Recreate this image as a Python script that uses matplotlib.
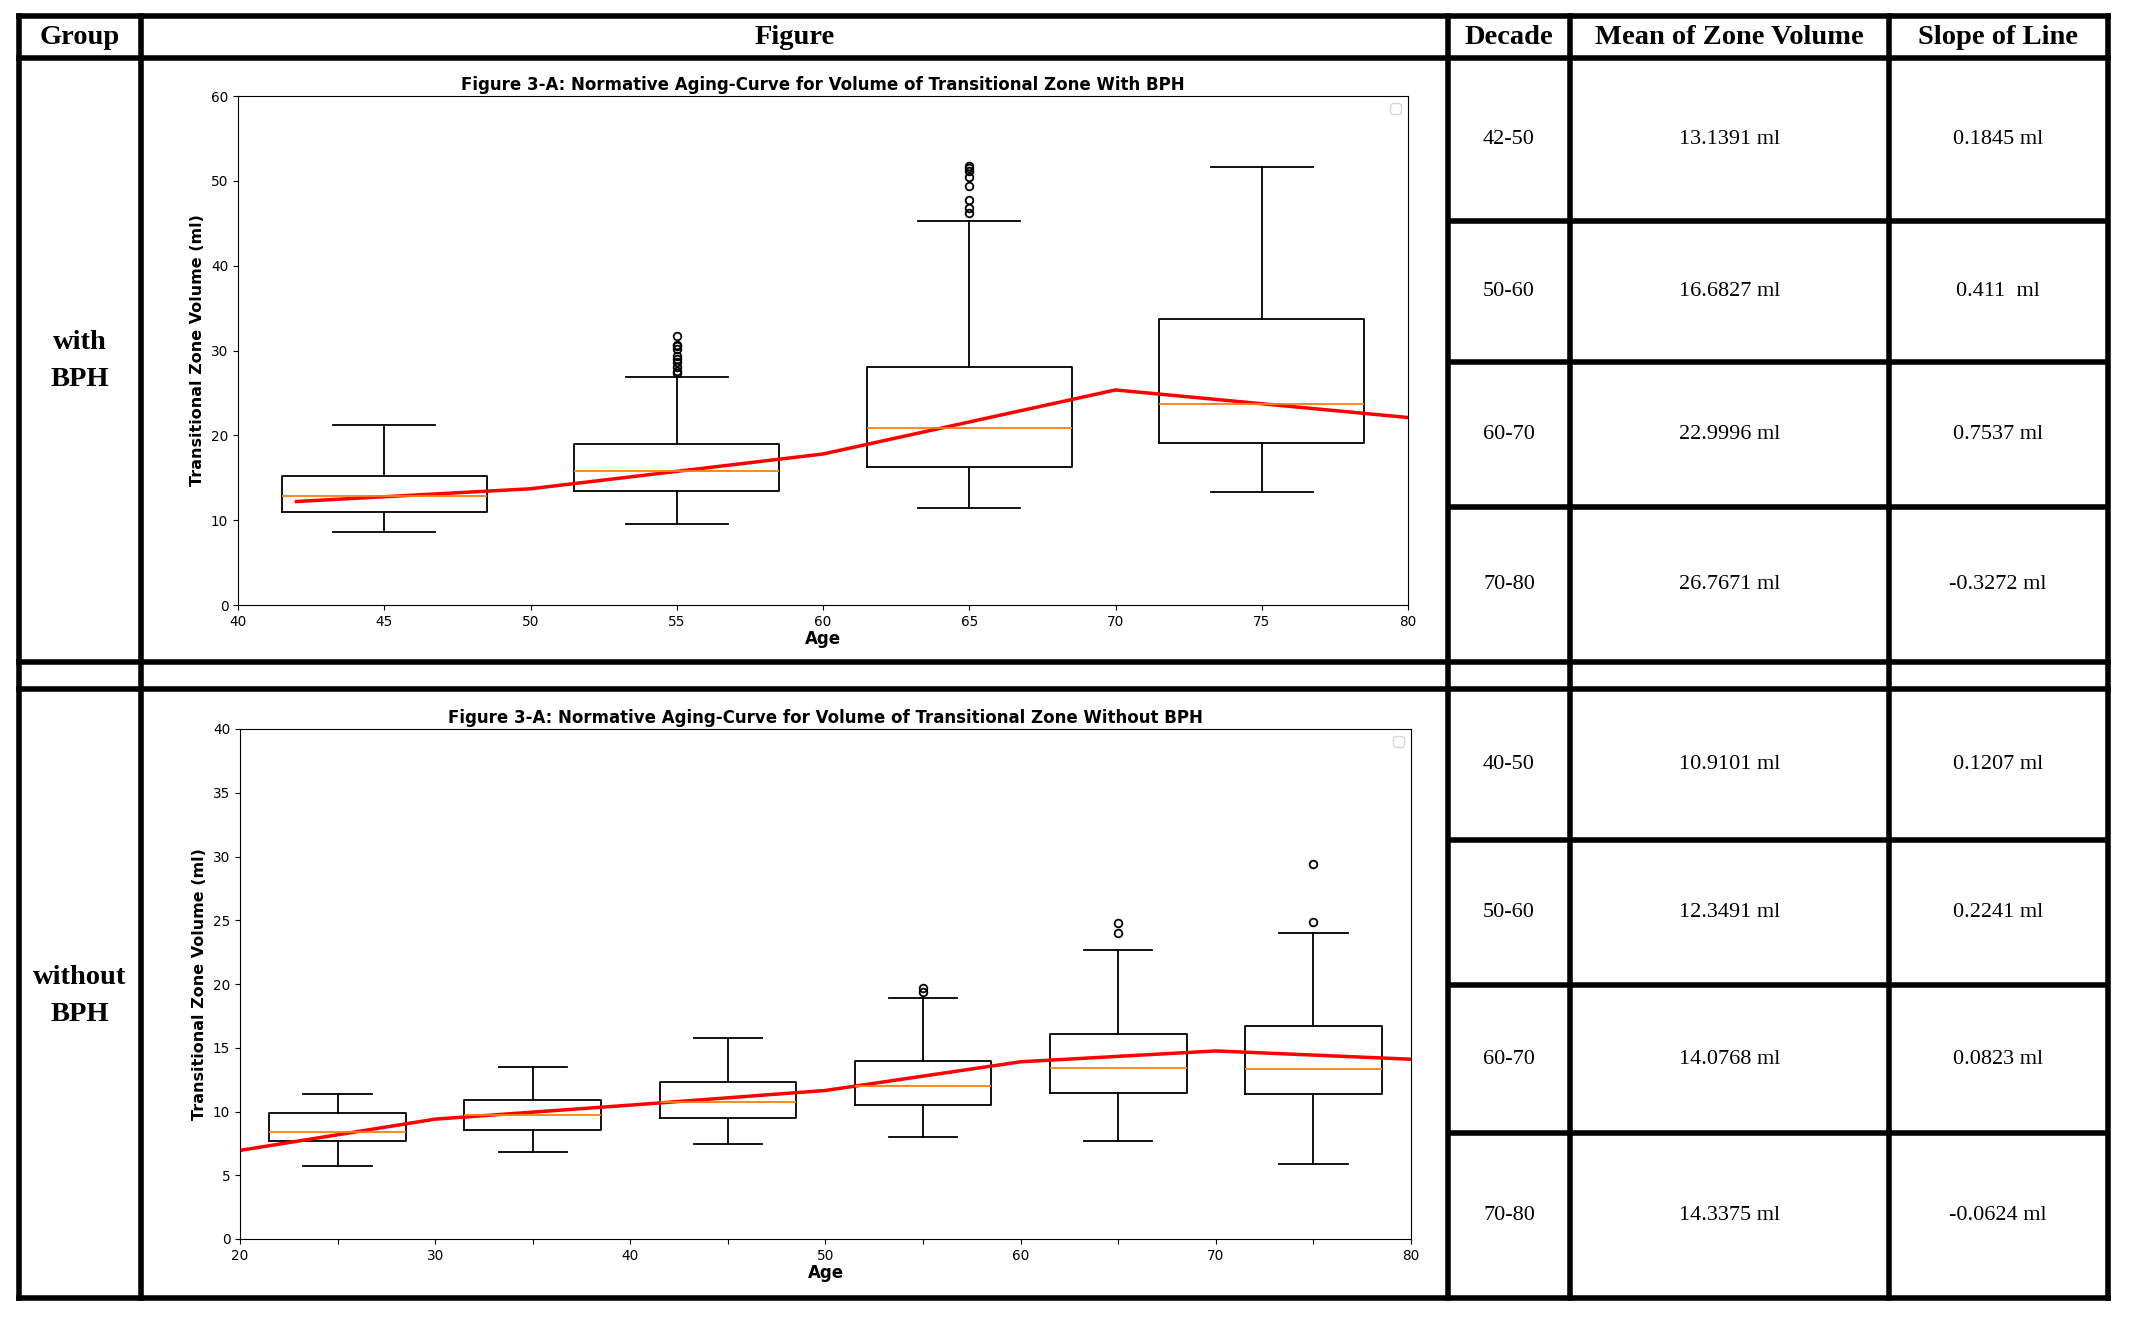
import matplotlib
matplotlib.use("Agg")
import matplotlib.pyplot as plt

# ---------------- data ----------------
# with BPH
bph_pos = [45, 55, 65, 75]
bph_whislo = [8.6, 9.5, 11.4, 13.3]
bph_q1 = [11.0, 13.45, 16.3, 19.1]
bph_med = [12.8, 15.75, 20.9, 23.75]
bph_q3 = [15.25, 18.95, 28.1, 33.75]
bph_whishi = [21.2, 26.9, 45.3, 51.6]
bph_fliers = [[],
              [27.3, 27.6, 28.1, 28.6, 29.0, 29.4, 30.2, 30.5, 30.7, 31.7],
              [46.2, 46.8, 47.7, 49.4, 50.4, 51.2, 51.5, 51.8],
              []]
bph_line_age = [42, 50, 60, 70, 80]
bph_line_vol = [12.2, 13.7, 17.8, 25.35, 22.1]

# without BPH
nob_pos = [25, 35, 45, 55, 65, 75]
nob_whislo = [5.7, 6.8, 7.45, 8.0, 7.65, 5.9]
nob_q1 = [7.7, 8.55, 9.5, 10.5, 11.45, 11.35]
nob_med = [8.4, 9.75, 10.75, 12.0, 13.4, 13.35]
nob_q3 = [9.9, 10.9, 12.3, 14.0, 16.1, 16.7]
nob_whishi = [11.4, 13.5, 15.8, 18.9, 22.7, 24.0]
nob_fliers = [[], [], [], [19.4, 19.7], [24.0, 24.8], [24.9, 29.45]]
nob_line_age = [20, 30, 40, 50, 60, 70, 80]
nob_line_vol = [6.95, 9.4, 10.5, 11.65, 13.9, 14.75, 14.1]

# table
headers = ["Group", "Figure", "Decade", "Mean of Zone Volume", "Slope of Line"]
bph_decades = ["42-50", "50-60", "60-70", "70-80"]
bph_means = ["13.1391 ml", "16.6827 ml", "22.9996 ml", "26.7671 ml"]
bph_slopes = ["0.1845 ml", "0.411  ml", "0.7537 ml", "-0.3272 ml"]
nob_decades = ["40-50", "50-60", "60-70", "70-80"]
nob_means = ["10.9101 ml", "12.3491 ml", "14.0768 ml", "14.3375 ml"]
nob_slopes = ["0.1207 ml", "0.2241 ml", "0.0823 ml", "-0.0624 ml"]

# ---------------- layout (pixels) ----------------
W, H = 2138, 1327
col_x = [18.5, 140.5, 1448, 1570, 1888.5, 2107.5]
row_y = [15.5, 57.5, 662, 689, 1297.5]
bph_rows = [57.5, 221, 362, 507, 662]
nob_rows = [689, 840, 985, 1133, 1297.5]

fig = plt.figure(figsize=(W / 100, H / 100), dpi=100)
fig.patch.set_facecolor("white")

tab = fig.add_axes([0, 0, 1, 1])
tab.set_xlim(0, W)
tab.set_ylim(H, 0)
tab.axis("off")

lw = 4
tab.hlines(row_y, col_x[0], col_x[-1], colors="black", lw=lw, capstyle="projecting")
tab.vlines(col_x, row_y[0], row_y[-1], colors="black", lw=lw, capstyle="projecting")
tab.hlines(bph_rows[1:-1], col_x[2], col_x[-1], colors="black", lw=lw)
tab.hlines(nob_rows[1:-1], col_x[2], col_x[-1], colors="black", lw=lw)

serif = "Liberation Serif"
for i, h in enumerate(headers):
    tab.text((col_x[i] + col_x[i + 1]) / 2, 37, h, ha="center", va="center",
             family=serif, fontweight="bold", fontsize=20.5)

tab.text((col_x[0] + col_x[1]) / 2, 361, "with\nBPH", ha="center", va="center",
         family=serif, fontweight="bold", fontsize=20.5, linespacing=1.65)
tab.text((col_x[0] + col_x[1]) / 2, 996, "without\nBPH", ha="center", va="center",
         family=serif, fontweight="bold", fontsize=20.5, linespacing=1.65)

for rows, dec, mean, slope in [(bph_rows, bph_decades, bph_means, bph_slopes),
                               (nob_rows, nob_decades, nob_means, nob_slopes)]:
    for j in range(4):
        yc = (rows[j] + rows[j + 1]) / 2
        for k, s in enumerate([dec[j], mean[j], slope[j]]):
            tab.text((col_x[2 + k] + col_x[3 + k]) / 2, yc, s, ha="center",
                     va="center", family=serif, fontsize=16)


def make_stats(whislo, q1, med, q3, whishi, fliers):
    stats = []
    for a, b, c, d, e, f in zip(whislo, q1, med, q3, whishi, fliers):
        stats.append({"whislo": a, "q1": b, "med": c, "q3": d, "whishi": e, "fliers": f})
    return stats


def draw_panel(rect, stats, pos, line_age, line_vol, xlim, ylim, xticks, xlabels,
               yticks, title):
    ax = fig.add_axes(rect)
    ax.bxp(stats, positions=pos, widths=7, manage_ticks=False,
           boxprops=dict(lw=1.3), whiskerprops=dict(lw=1.3), capprops=dict(lw=1.3),
           medianprops=dict(color="#ff7f0e", lw=1.3),
           flierprops=dict(marker="o", markerfacecolor="none", markeredgewidth=1.3,
                           markeredgecolor="black", markersize=5.5))
    ax.plot(line_age, line_vol, color="red", lw=2.5)
    ax.set_xlim(*xlim)
    ax.set_ylim(*ylim)
    ax.set_xticks(xticks)
    ax.set_xticklabels(xlabels)
    ax.set_yticks(yticks)
    ax.tick_params(labelsize=9.8)
    ax.set_xlabel("Age", fontweight="bold", fontsize=12, labelpad=1)
    ax.set_ylabel("Transitional Zone Volume (ml)", fontweight="bold", fontsize=11.5)
    ax.set_title(title, fontweight="bold", fontsize=12, pad=4)
    ax.legend(handles=[], loc="upper right")
    return ax


draw_panel([238 / W, 1 - 605 / H, 1170 / W, 509 / H],
           make_stats(bph_whislo, bph_q1, bph_med, bph_q3, bph_whishi, bph_fliers),
           bph_pos, bph_line_age, bph_line_vol, (40, 80), (0, 60),
           list(range(40, 81, 5)), [str(v) for v in range(40, 81, 5)],
           list(range(0, 61, 10)),
           "Figure 3-A: Normative Aging-Curve for Volume of Transitional Zone With BPH")

draw_panel([240 / W, 1 - 1239 / H, 1171 / W, 510 / H],
           make_stats(nob_whislo, nob_q1, nob_med, nob_q3, nob_whishi, nob_fliers),
           nob_pos, nob_line_age, nob_line_vol, (20, 80), (0, 40),
           list(range(20, 81, 5)), [str(v) if v % 10 == 0 else "" for v in range(20, 81, 5)],
           list(range(0, 41, 5)),
           "Figure 3-A: Normative Aging-Curve for Volume of Transitional Zone Without BPH")

fig.savefig("out.png", dpi=100, facecolor="white")
